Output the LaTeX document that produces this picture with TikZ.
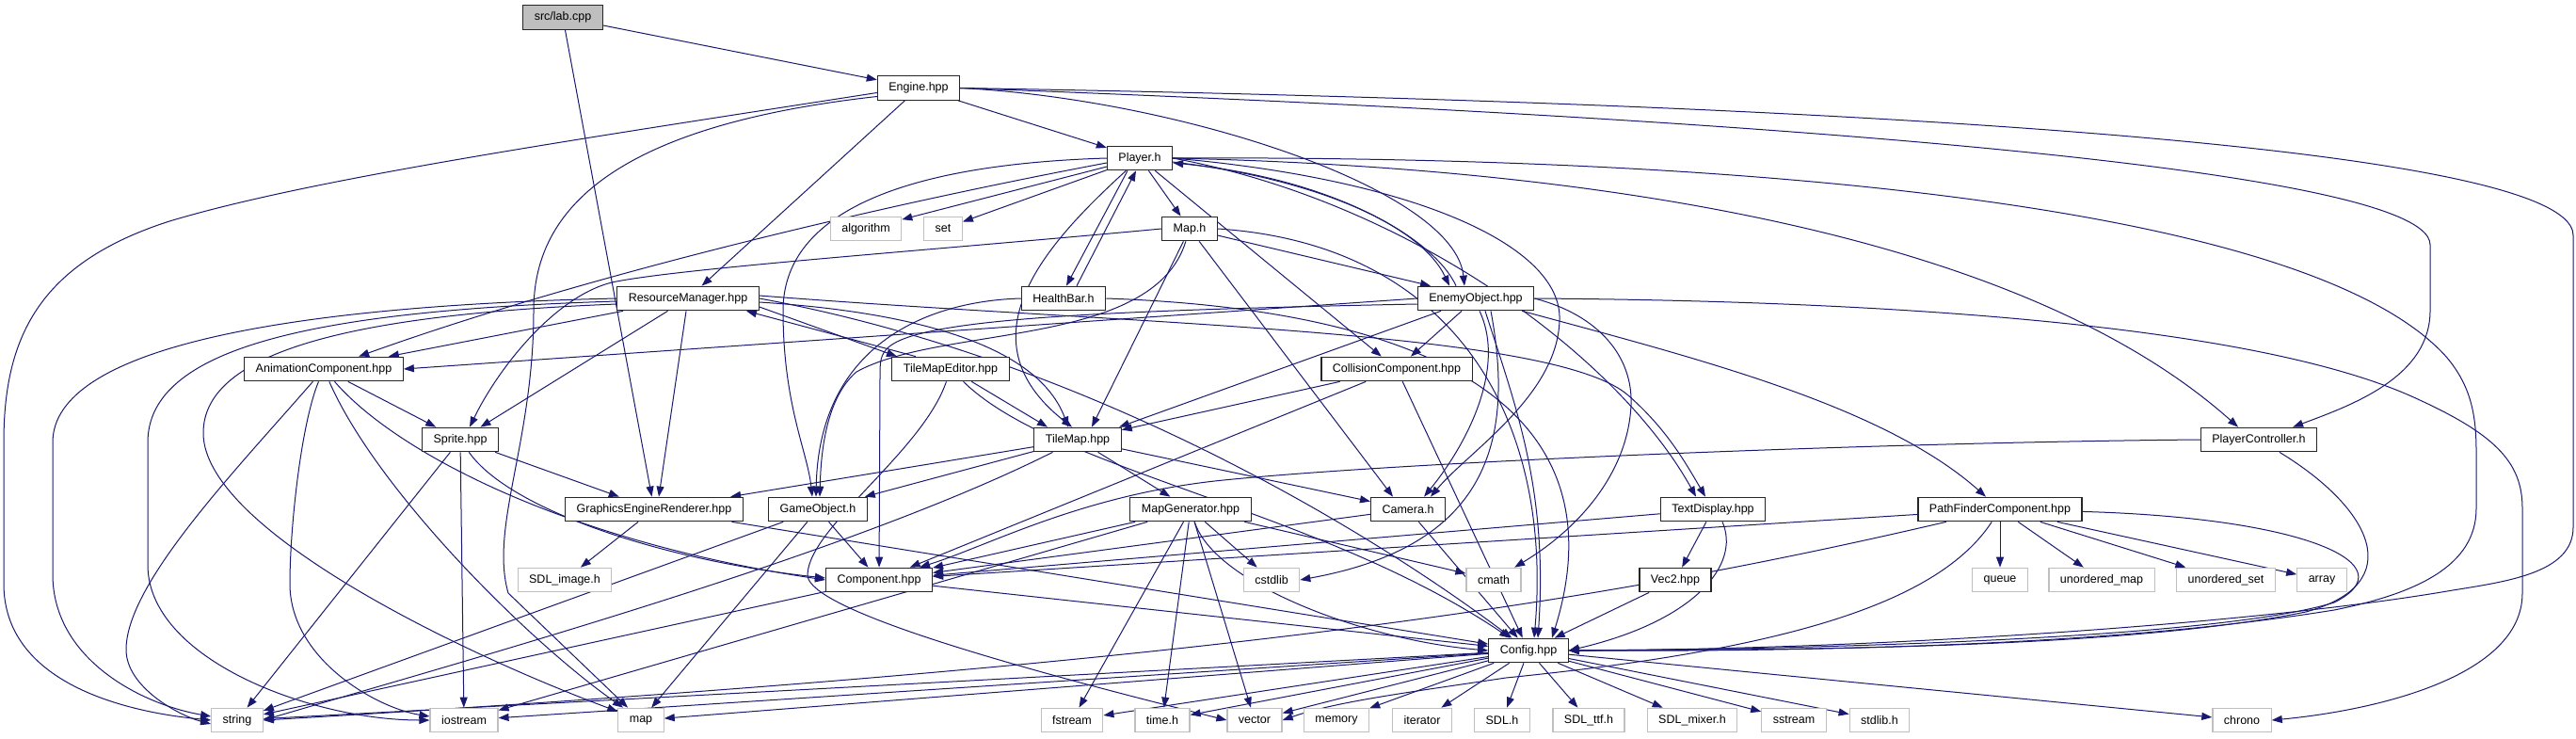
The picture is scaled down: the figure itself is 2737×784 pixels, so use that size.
\documentclass[tikz,border=0pt]{standalone}
\usepackage{fontspec}
\setmainfont{Liberation Sans}
\usepackage{tikz}
\usetikzlibrary{
  arrows.meta,
  backgrounds
}
\definecolor{dgEdge}{HTML}{191970}
\definecolor{dgMute}{HTML}{BFBFBF}
\tikzset{
  dgnode/.style={
    draw, rectangle, minimum height=25.5pt, inner xsep=12pt, inner ysep=2pt,
    line width=1.2pt, fill=white, font=\fontsize{12.5}{14}\selectfont
  },
  hdrbox/.style={dgnode, draw=black!85},
  sysbox/.style={dgnode, draw=dgMute},
  srcbox/.style={dgnode, draw=black!85, fill=dgMute},
  incl/.style={-{Triangle[length=11pt,width=8pt]}, dgEdge, line width=1pt}
}

\begin{document}
\begin{tikzpicture}[x=1pt, y=-1pt]
  \useasboundingbox (0,0) rectangle (2737,784);

  % project files
  \node[srcbox] (lab) at (598,18.5) {src/lab.cpp};
  \node[hdrbox] (engine) at (976,93.5) {Engine.hpp};
  \node[hdrbox] (player) at (1211,168) {Player.h};
  \node[hdrbox] (maph) at (1264,243) {Map.h};
  \node[hdrbox] (resmgr) at (731,317) {ResourceManager.hpp};
  \node[hdrbox] (healthbar) at (1130,317) {HealthBar.h};
  \node[hdrbox] (enemy) at (1568,317) {EnemyObject.hpp};
  \node[hdrbox] (animcomp) at (344,392) {AnimationComponent.hpp};
  \node[hdrbox] (tmeditor) at (1010,392) {TileMapEditor.hpp};
  \node[hdrbox] (collision) at (1484,392) {CollisionComponent.hpp};
  \node[hdrbox] (sprite) at (489,467) {Sprite.hpp};
  \node[hdrbox] (tilemap) at (1145,467) {TileMap.hpp};
  \node[hdrbox] (plctrl) at (2400,467) {PlayerController.h};
  \node[hdrbox] (gfx) at (695,541) {GraphicsEngineRenderer.hpp};
  \node[hdrbox] (gameobj) at (869,541) {GameObject.h};
  \node[hdrbox] (mapgen) at (1265,541) {MapGenerator.hpp};
  \node[hdrbox] (camera) at (1496,541) {Camera.h};
  \node[hdrbox] (textdisp) at (1820,541) {TextDisplay.hpp};
  \node[hdrbox] (pathfind) at (2125,541) {PathFinderComponent.hpp};
  \node[hdrbox] (component) at (934,616) {Component.hpp};
  \node[hdrbox] (vec2) at (1780,616) {Vec2.hpp};
  \node[hdrbox] (config) at (1624,691) {Config.hpp};

  % system headers
  \node[sysbox] (algorithm) at (920,243) {algorithm};
  \node[sysbox] (set) at (1002,243) {set};
  \node[sysbox] (sdlimage) at (600,616) {SDL\_image.h};
  \node[sysbox] (cstdlib) at (1351,616) {cstdlib};
  \node[sysbox] (cmath) at (1587,616) {cmath};
  \node[sysbox] (queue) at (2125,616) {queue};
  \node[sysbox] (umap) at (2233,616) {unordered\_map};
  \node[sysbox] (uset) at (2365,616) {unordered\_set};
  \node[sysbox] (array) at (2467,616) {array};
  \node[sysbox] (string) at (252,765) {string};
  \node[sysbox] (iostream) at (493,765) {iostream};
  \node[sysbox] (stdmap) at (681,765) {map};
  \node[sysbox] (fstream) at (1139,765) {fstream};
  \node[sysbox] (timeh) at (1235,765) {time.h};
  \node[sysbox] (vector) at (1333,765) {vector};
  \node[sysbox] (memory) at (1420,765) {memory};
  \node[sysbox] (iterator) at (1511,765) {iterator};
  \node[sysbox] (sdl) at (1596,765) {SDL.h};
  \node[sysbox] (sdlttf) at (1688,765) {SDL\_ttf.h};
  \node[sysbox] (sdlmixer) at (1798,765) {SDL\_mixer.h};
  \node[sysbox] (sstream) at (1906,765) {sstream};
  \node[sysbox] (stdlib) at (1997,765) {stdlib.h};
  \node[sysbox] (chrono) at (2382,765) {chrono};

  \begin{scope}[on background layer]
  \fill[white] (0,0) rectangle (2737,784);

  % src/lab.cpp
  \draw[incl] (lab) -- (engine); \draw[incl] (lab) -- (gfx);

  % Engine.hpp
  \draw[incl] (engine) -- (player); \draw[incl] (engine) -- (resmgr);
  \draw[incl] ([yshift=-9pt]engine.west) .. controls (640,135) and (567,230) .. (567,330)
    .. controls (567,470) and (520,560) .. (540,630) -- (stdmap);
  \draw[incl] ([yshift=-5pt]engine.west) .. controls (600,150) and (330,190) .. (180,235)
    .. controls (40,280) and (4,360) .. (4,470) -- (4,620) .. controls (4,720) and (120,755) .. (string.west);
  \draw[incl] (engine.east) .. controls (1600,115) and (2582,165) .. (2582,260) -- (2582,330)
    .. controls (2582,400) and (2500,430) .. (plctrl);
  \draw[incl] (engine.east) .. controls (1700,105) and (2734,140) .. (2734,250) -- (2734,560)
    .. controls (2734,610) and (2660,618) .. (2600,628) .. controls (2400,662) and (2000,690) .. (config);
  \draw[incl] (engine.east) .. controls (1250,105) and (1545,200) .. ([xshift=-12pt]enemy.north);

  % Player.h
  \draw[incl] (player) -- (algorithm); \draw[incl] (player) -- (set); \draw[incl] (player) -- (maph);
  \draw[incl] ([xshift=-13pt]player.south) -- ([xshift=3pt]healthbar.north);
  \draw[incl] ([yshift=-5pt]player.west) .. controls (900,225) and (600,300) .. (animcomp);
  \draw[incl] (player) -- (collision);
  \draw[incl] (player.west) .. controls (950,175) and (832,230) .. (832,330)
    .. controls (832,430) and (858,480) .. ([xshift=-6pt]gameobj.north);
  \draw[incl] (player) .. controls (1110,260) and (1020,360) .. ([xshift=-6pt]tilemap.north);
  \draw[incl] (player) .. controls (1400,190) and (1510,240) .. ([xshift=-28pt]enemy.north);
  \draw[incl] (player.east) .. controls (1500,190) and (1660,260) .. (1657,340)
    .. controls (1655,420) and (1560,480) .. ([xshift=24pt]camera.north);
  \draw[incl] (player.east) .. controls (1500,215) and (1720,380) .. ([xshift=-18pt]textdisp.north);
  \draw[incl] (player.east) .. controls (1700,178) and (2150,250) .. ([xshift=-22pt]plctrl.north);
  \draw[incl] (player.east) .. controls (1800,165) and (2450,210) .. (2600,380)
    .. controls (2625,410) and (2631,440) .. (2631,480) -- (2631,540)
    .. controls (2631,600) and (2570,630) .. (2480,648) .. controls (2250,685) and (1950,692) .. (config);

  % Map.h
  \draw[incl] (maph.west) .. controls (1000,265) and (720,285) .. (650,300)
    .. controls (590,315) and (530,390) .. ([xshift=10pt]sprite.north);
  \draw[incl] (maph) -- ([xshift=15pt]tilemap.north);
  \draw[incl] (maph) -- ([xshift=-16pt]camera.north);
  \draw[incl] (maph) -- ([xshift=-48pt]enemy.north);
  \draw[incl] (maph.east) .. controls (1550,260) and (1650,450) .. ([xshift=6pt]config.north);
  \draw[incl] (maph) .. controls (1225,370) and (1000,345) .. (910,395)
    .. controls (875,425) and (872,490) .. ([xshift=2pt]gameobj.north);

  % HealthBar.h
  \draw[incl] ([xshift=14pt]healthbar.north) -- ([xshift=-4pt]player.south);
  \draw[incl] (healthbar.west) .. controls (980,320) and (870,370) .. ([xshift=-2pt]gameobj.north);
  \draw[incl] (healthbar.east) .. controls (1550,330) and (1720,450) .. ([xshift=25pt]config.north);

  % EnemyObject.hpp
  \draw[incl] ([xshift=-21pt]enemy.north) .. controls (1525,255) and (1420,190) .. ([yshift=-5pt]player.east);
  \draw[incl] (enemy.west) -- (animcomp.east);
  \draw[incl] (enemy) -- ([xshift=44pt]tilemap.north);
  \draw[incl] (enemy) -- (collision);
  \draw[incl] ([xshift=4pt]enemy.south) .. controls (1600,390) and (1560,470) .. ([xshift=17pt]camera.north);
  \draw[incl] ([xshift=10pt]enemy.south) .. controls (1610,430) and (1645,520) .. ([xshift=10pt]config.north);
  \draw[incl] (enemy.east) .. controls (1700,335) and (1735,380) .. (1733,430)
    .. controls (1730,500) and (1680,560) .. (cmath);
  \draw[incl] ([xshift=16pt]enemy.south) .. controls (1610,470) and (1580,580) .. (cstdlib.east);
  \draw[incl] (enemy) .. controls (1800,380) and (2000,430) .. (pathfind);
  \draw[incl] (enemy.east) .. controls (2050,320) and (2400,350) .. (2560,420)
    .. controls (2650,460) and (2680,490) .. (2680,540) -- (2680,630)
    .. controls (2680,720) and (2520,755) .. (chrono.east);
  \draw[incl] ([yshift=-6pt]enemy.west) .. controls (1150,330) and (980,340) .. (945,368)
    .. controls (935,376) and (935,385) .. (935,400) -- (component);

  % ResourceManager.hpp
  \draw[incl] (resmgr) -- (animcomp); \draw[incl] (resmgr) -- (sprite);
  \draw[incl] (resmgr) -- ([xshift=5pt]gfx.north);
  \draw[incl] ([yshift=-9pt]resmgr.east) -- ([xshift=-57pt]tmeditor.north);
  \draw[incl] ([yshift=-4pt]resmgr.east) .. controls (950,330) and (1100,360) .. ([xshift=-10pt]tilemap.north);
  \draw[incl] (resmgr.east) .. controls (1150,380) and (1450,560) .. (config);
  \draw[incl] ([yshift=3pt]resmgr.east) .. controls (1200,345) and (1650,350) .. (1730,420)
    .. controls (1770,455) and (1790,490) .. ([xshift=-8pt]textdisp.north);
  \draw[incl] (resmgr.west) .. controls (300,325) and (56,370) .. (56,470) -- (56,610)
    .. controls (56,700) and (150,748) .. ([yshift=4pt]string.west);
  \draw[incl] ([yshift=-3pt]resmgr.west) .. controls (330,330) and (157,370) .. (157,470) -- (157,600)
    .. controls (157,700) and (330,765) .. (iostream.west);
  \draw[incl] ([yshift=-6pt]resmgr.west) .. controls (350,335) and (216,380) .. (216,460)
    .. controls (216,560) and (480,690) .. (stdmap);

  % TileMapEditor.hpp
  \draw[incl] ([xshift=-37pt]tmeditor.north) -- ([xshift=62pt]resmgr.south);
  \draw[incl] (tmeditor) -- ([xshift=-32pt]tilemap.north);
  \draw[incl] (tmeditor) .. controls (1120,500) and (1400,540) .. (config);
  \draw[incl] (tmeditor) .. controls (980,480) and (860,560) .. (858,610)
    .. controls (856,640) and (1000,690) .. (vector.west);

  % AnimationComponent.hpp
  \draw[incl] (animcomp) -- (sprite);
  \draw[incl] (animcomp) .. controls (420,480) and (600,575) .. (component.west);
  \draw[incl] (animcomp) .. controls (250,500) and (134,620) .. (134,690)
    .. controls (134,730) and (190,760) .. ([yshift=-4pt]string.west);
  \draw[incl] (animcomp) .. controls (320,450) and (308,560) .. (308,620)
    .. controls (308,700) and (400,752) .. ([yshift=4pt]iostream.west);
  \draw[incl] (animcomp) .. controls (400,520) and (560,680) .. (stdmap);

  % Sprite.hpp
  \draw[incl] (sprite) -- (gfx); \draw[incl] (sprite) -- (string); \draw[incl] (sprite) -- (iostream);
  \draw[incl] (sprite) .. controls (540,540) and (700,595) .. ([yshift=2pt]component.west);

  % CollisionComponent.hpp
  \draw[incl] (collision) -- (tilemap); \draw[incl] (collision) -- (component); \draw[incl] (collision) -- (config);

  % PlayerController.h
  \draw[incl] (plctrl.west) .. controls (2000,470) and (1500,490) .. (1300,510)
    .. controls (1150,525) and (1050,580) .. (component);
  \draw[incl] (plctrl) .. controls (2520,540) and (2560,620) .. (2450,650)
    .. controls (2250,690) and (1900,690) .. (config);

  % TileMap.hpp
  \draw[incl] (tilemap) -- (gfx); \draw[incl] (tilemap) -- (gameobj);
  \draw[incl] (tilemap) -- (mapgen); \draw[incl] (tilemap) -- (camera);
  \draw[incl] (tilemap) .. controls (900,590) and (500,700) .. (string.east);

  % Camera.h, TextDisplay.hpp, GraphicsEngineRenderer.hpp, GameObject.h
  \draw[incl] (camera) -- (component); \draw[incl] (camera) -- (config);
  \draw[incl] (textdisp) -- (vec2); \draw[incl] (textdisp) -- (component);
  \draw[incl] ([xshift=10pt]textdisp.south) .. controls (1850,600) and (1800,660) .. (config.east);
  \draw[incl] (gfx) -- (sdlimage); \draw[incl] (gfx) -- (config);
  \draw[incl] (gameobj) -- (component); \draw[incl] (gameobj) -- (string); \draw[incl] (gameobj) -- (stdmap);

  % MapGenerator.hpp
  \draw[incl] (mapgen) -- (component); \draw[incl] (mapgen) -- (iostream);
  \draw[incl] (mapgen) -- (fstream); \draw[incl] (mapgen) -- (timeh); \draw[incl] (mapgen) -- (vector);
  \draw[incl] (mapgen) -- (cstdlib); \draw[incl] (mapgen) -- (cmath);
  \draw[incl] (mapgen) .. controls (1290,620) and (1450,680) .. (config.west);

  % PathFinderComponent.hpp
  \draw[incl] (pathfind) -- (queue); \draw[incl] (pathfind) -- (umap);
  \draw[incl] (pathfind) -- (uset); \draw[incl] (pathfind) -- (array);
  \draw[incl] (pathfind) .. controls (2450,550) and (2560,600) .. (2480,640)
    .. controls (2350,680) and (1900,690) .. (config);
  \draw[incl] (pathfind) -- (component);
  \draw[incl] (pathfind) .. controls (1700,640) and (1300,705) .. (string.east);
  \draw[incl] (pathfind) .. controls (2060,640) and (1900,690) .. (1600,720)
    .. controls (1500,735) and (1420,745) .. (vector.east);

  % Vec2.hpp, Component.hpp
  \draw[incl] (vec2) -- (config);
  \draw[incl] (component) -- (config); \draw[incl] (component) -- (string);

  % Config.hpp
  \draw[incl] (config) -- (string); \draw[incl] (config) -- (iostream); \draw[incl] (config) -- (stdmap);
  \draw[incl] (config) -- (fstream); \draw[incl] (config) -- (timeh); \draw[incl] (config) -- (vector);
  \draw[incl] (config) -- (memory); \draw[incl] (config) -- (iterator); \draw[incl] (config) -- (sdl);
  \draw[incl] (config) -- (sdlttf); \draw[incl] (config) -- (sdlmixer); \draw[incl] (config) -- (sstream);
  \draw[incl] (config) -- (stdlib); \draw[incl] (config) -- (chrono);
  \end{scope}
\end{tikzpicture}
\end{document}
